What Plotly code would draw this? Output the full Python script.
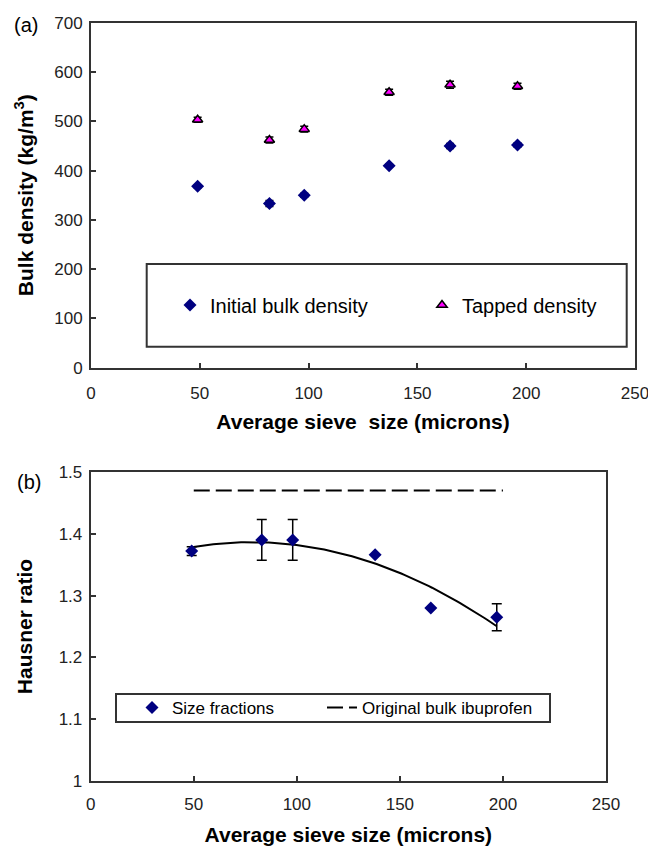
import numpy as np
import plotly.graph_objects as go

# ---------------- data ----------------
# (a) bulk densities
SIEVE_A = [49, 82, 98, 137, 165, 196]
INITIAL_BULK = [368, 333, 350, 410, 450, 452]
INITIAL_BULK_ERR = [3, 6, 4, 3, 5, 4]
TAPPED = [503, 462, 484, 559, 574, 571]
TAPPED_ERR = [5, 6, 6, 6, 7, 6]

# (b) Hausner ratio
SIEVE_B = [49, 83, 98, 138, 165, 197]
HAUSNER = [1.372, 1.390, 1.390, 1.366, 1.280, 1.265]
HAUSNER_ERR = [0.007, 0.033, 0.033, 0.0, 0.0, 0.022]
ORIGINAL_X = [50, 200]
ORIGINAL_HR = [1.47, 1.47]

X_TICKS = [0, 50, 100, 150, 200, 250]
Y_TICKS_A = [0, 100, 200, 300, 400, 500, 600, 700]
Y_TICKS_B = [1, 1.1, 1.2, 1.3, 1.4, 1.5]
Y_TICKTEXT_B = ["1", "1.1", "1.2", "1.3", "1.4", "1.5"]

# polynomial (order 2) trendline fitted to the Hausner data
coef = np.polyfit(SIEVE_B, HAUSNER, 2)
fit_x = np.linspace(min(SIEVE_B), max(SIEVE_B), 100)
fit_y = np.polyval(coef, fit_x)

W, H = 656, 850
OFF = 8  # default page body margin
def px(x):
    return (x - OFF) / W
def py(y):
    return 1 - (y - OFF) / H

FONT = "Arial, Liberation Sans, sans-serif"
NAVY = "#000080"
MAGENTA = "#FF00FF"
AXC = "#333333"

fig = go.Figure()

fig.add_trace(go.Scatter(
    x=SIEVE_A, y=INITIAL_BULK, mode="markers", name="Initial bulk density",
    marker=dict(symbol="diamond", size=10, color=NAVY),
    error_y=dict(type="data", array=INITIAL_BULK_ERR, color="black", thickness=1.5, width=4),
    xaxis="x", yaxis="y", legend="legend", legendwidth=207))
fig.add_trace(go.Scatter(
    x=SIEVE_A, y=TAPPED, mode="markers", name="Tapped density",
    marker=dict(symbol="triangle-up", size=9, color=MAGENTA, line=dict(color="black", width=1.5)),
    error_y=dict(type="data", array=TAPPED_ERR, color="black", thickness=1.5, width=4),
    xaxis="x", yaxis="y", legend="legend", legendwidth=150))

fig.add_trace(go.Scatter(
    x=fit_x, y=fit_y, mode="lines", showlegend=False,
    line=dict(color="black", width=2), xaxis="x2", yaxis="y2", hoverinfo="skip"))
fig.add_trace(go.Scatter(
    x=SIEVE_B, y=HAUSNER, mode="markers", name="Size fractions",
    marker=dict(symbol="diamond", size=10, color=NAVY),
    error_y=dict(type="data", array=HAUSNER_ERR, color="black", thickness=1.5, width=5),
    xaxis="x2", yaxis="y2", legend="legend2", legendwidth=145))
fig.add_trace(go.Scatter(
    x=ORIGINAL_X, y=ORIGINAL_HR, mode="lines", name="Original bulk ibuprofen",
    line=dict(color="black", width=2, dash="16px,6px"),
    xaxis="x2", yaxis="y2", legend="legend2", legendwidth=180))

axis_common = dict(
    showline=True, linecolor=AXC, linewidth=2, mirror=True,
    ticks="inside", ticklen=5, tickcolor=AXC, tickwidth=1.5,
    showgrid=False, zeroline=False, automargin=False,
    tickfont=dict(family=FONT, size=17, color="#222222"),
)
title_font = dict(family=FONT, size=21, color="black")

fig.update_layout(
    width=W, height=H, margin=dict(l=0, r=0, t=0, b=0, autoexpand=False),
    paper_bgcolor="white", plot_bgcolor="white",
    font=dict(family=FONT, color="black"),
    xaxis=dict(axis_common, domain=[px(91), px(635)], range=[0, 250], tickvals=X_TICKS,
               anchor="y", ticklabelstandoff=9,
               title=dict(text="<b>Average sieve\u00a0 size (microns)</b>", font=title_font, standoff=12)),
    yaxis=dict(axis_common, domain=[py(367.7), py(22.7)], range=[0, 700], tickvals=Y_TICKS_A,
               anchor="x", ticklabelstandoff=3,
               title=dict(text="<b>Bulk density (kg/m<sup>3</sup>)</b>", font=title_font, standoff=15)),
    xaxis2=dict(axis_common, domain=[px(90.7), px(606)], range=[0, 250], tickvals=X_TICKS,
                anchor="y2", ticklabelstandoff=7,
                title=dict(text="<b>Average sieve size (microns)</b>", font=title_font, standoff=14)),
    yaxis2=dict(axis_common, domain=[py(781), py(472)], range=[1, 1.5], tickvals=Y_TICKS_B,
                ticktext=Y_TICKTEXT_B, anchor="x2", ticklabelstandoff=3,
                title=dict(text="<b>Hausner ratio</b>", font=title_font, standoff=20)),
    legend=dict(orientation="h", x=px(170), y=py(305), xanchor="left", yanchor="middle",
                bgcolor="rgba(0,0,0,0)", borderwidth=0,
                font=dict(family=FONT, size=20, color="black"), itemclick=False),
    legend2=dict(orientation="h", x=px(132), y=py(708), xanchor="left", yanchor="middle",
                 bgcolor="rgba(0,0,0,0)", borderwidth=0,
                 font=dict(family=FONT, size=17, color="black"), itemclick=False),
    shapes=[
        dict(type="rect", xref="paper", yref="paper", x0=px(146.7), x1=px(626.7),
             y0=py(346.7), y1=py(264), line=dict(color=AXC, width=2), layer="below"),
        dict(type="rect", xref="paper", yref="paper", x0=px(116), x1=px(550),
             y0=py(722), y1=py(694), line=dict(color=AXC, width=2), layer="below"),
    ],
    annotations=[
        dict(text="(a)", x=px(25.5), y=py(25), xref="paper", yref="paper", showarrow=False,
             xanchor="center", yanchor="middle", font=dict(family=FONT, size=20, color="black")),
        dict(text="(b)", x=px(29), y=py(482), xref="paper", yref="paper", showarrow=False,
             xanchor="center", yanchor="middle", font=dict(family=FONT, size=20, color="black")),
    ],
)

fig.write_html("out.html")
